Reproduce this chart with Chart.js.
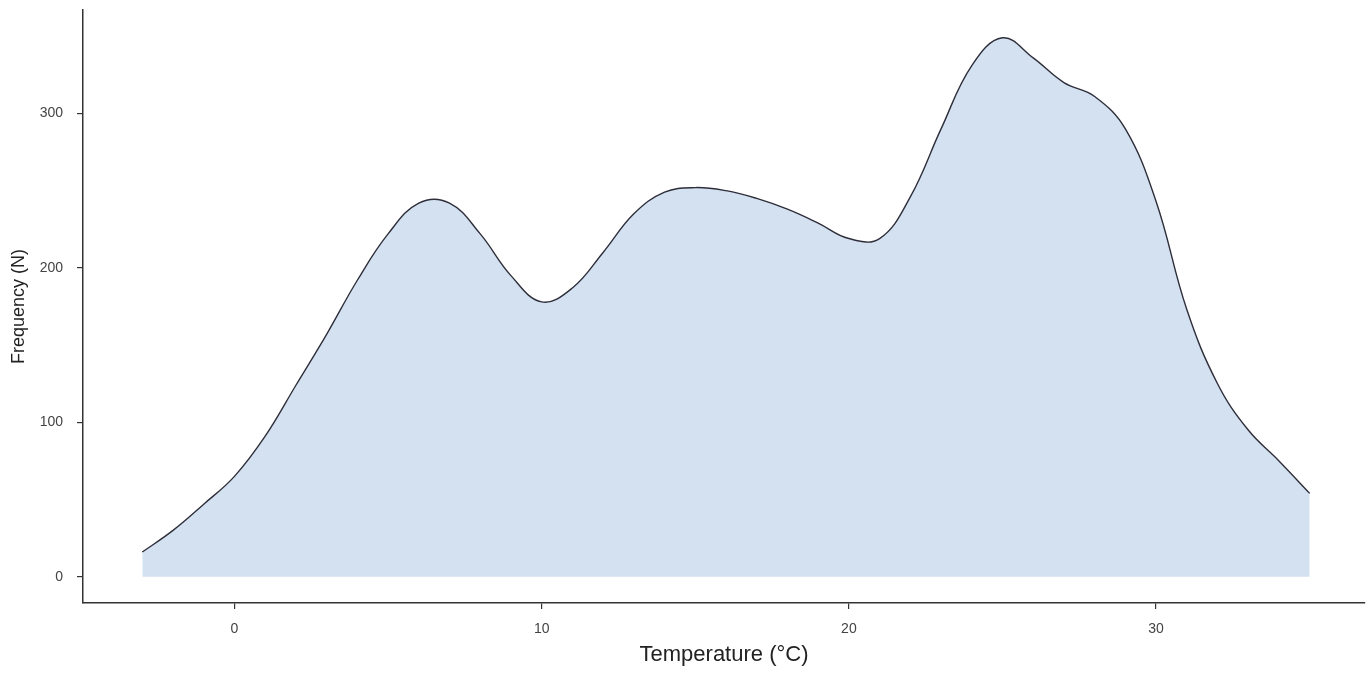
<!DOCTYPE html>
<html>
<head>
<meta charset="utf-8">
<title>Temperature frequency</title>
<script src="https://cdn.jsdelivr.net/npm/chart.js@4.4.1/dist/chart.umd.min.js"></script>
<style>
  html, body { margin: 0; padding: 0; background: #fff; }
  #wrap { width: 1371px; height: 675px; }
</style>
</head>
<body>
<div id="wrap"><canvas id="tempChart" width="1371" height="675"></canvas></div>
<script>
// temperature (°C)
const temps = [-3, -2, -1, 0, 1, 2, 3, 4, 5, 6, 7, 8, 9, 10, 11, 12, 13, 14, 15, 16,
  17, 18, 19, 20, 21, 22, 23, 24, 25, 26, 27, 28, 29, 30, 31, 32, 33, 34, 35];
// frequency (N) at each temperature
const freq = [16, 30, 47, 65, 91, 124, 157, 192, 222, 242, 242, 222, 195, 178, 187, 210, 235, 249, 252, 250,
  245, 238, 229, 219, 219, 246, 290, 331, 349, 336, 320, 311, 290, 243, 173, 125, 95, 75, 54];

const xTicks = [0, 10, 20, 30];
const yTicks = [0, 100, 200, 300];

const points = temps.map((t, i) => ({ x: t, y: freq[i] }));

const axisColor = '#333333';
const tickColor = '#444444';
const fontFamily = '"Liberation Sans", Arial, sans-serif';

new Chart(document.getElementById('tempChart'), {
  type: 'line',
  data: {
    datasets: [{
      data: points,
      borderColor: '#2e2e3a',
      borderWidth: 1.4,
      backgroundColor: '#d3e1f1',
      fill: 'origin',
      pointRadius: 0,
      tension: 0.4
    }]
  },
  options: {
    responsive: false,
    animation: false,
    layout: { padding: { top: 10, right: 6, left: 0, bottom: 0 } },
    plugins: {
      legend: { display: false },
      tooltip: { enabled: false }
    },
    scales: {
      x: {
        type: 'linear',
        min: -4.93,
        max: 36.8,
        afterBuildTicks: (scale) => { scale.ticks = xTicks.map(v => ({ value: v })); },
        afterFit: (scale) => { scale.height = 72; scale.paddingLeft = 0; scale.paddingRight = 0; },
        border: { display: true, color: axisColor, width: 1.5 },
        grid: { display: true, drawOnChartArea: false, drawTicks: true, tickLength: 6, color: axisColor, lineWidth: 1.2 },
        ticks: { color: tickColor, font: { family: fontFamily, size: 14 }, padding: 12, maxRotation: 0 },
        title: {
          display: true,
          text: 'Temperature (°C)',
          color: '#222',
          font: { family: fontFamily, size: 22 },
          padding: { top: 4, bottom: 7 }
        }
      },
      y: {
        type: 'linear',
        min: -17,
        max: 367,
        afterBuildTicks: (scale) => { scale.ticks = yTicks.map(v => ({ value: v })); },
        afterFit: (scale) => { scale.width = 83; scale.paddingTop = 0; scale.paddingBottom = 0; },
        border: { display: true, color: axisColor, width: 1.5 },
        grid: { display: true, drawOnChartArea: false, drawTicks: true, tickLength: 6, color: axisColor, lineWidth: 1.2 },
        ticks: { color: tickColor, font: { family: fontFamily, size: 14 }, padding: 14 },
        title: {
          display: true,
          text: 'Frequency (N)',
          color: '#222',
          font: { family: fontFamily, size: 18 },
          padding: { top: 8, bottom: 4 }
        }
      }
    }
  }
});
</script>
</body>
</html>
